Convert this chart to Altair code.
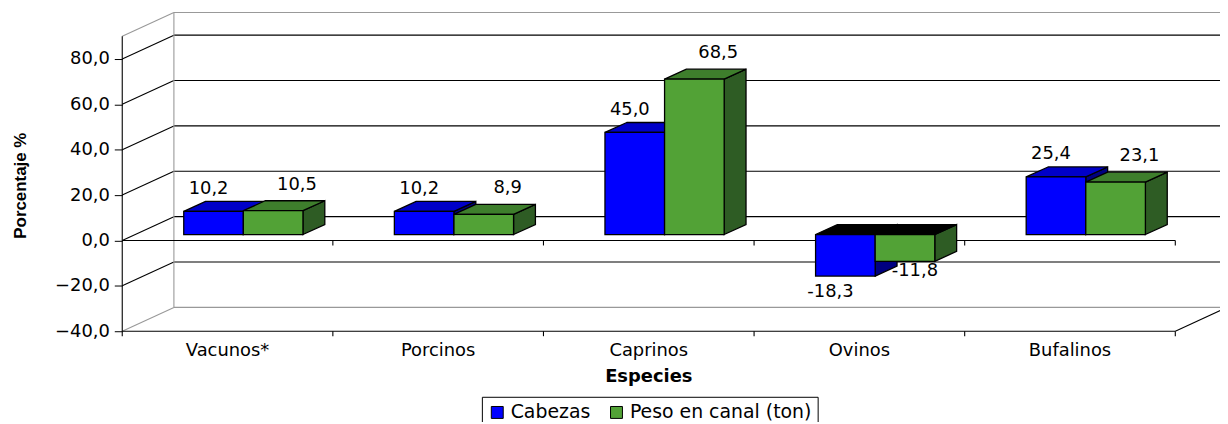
import altair as alt
import pandas as pd

# ---- data ----
categories = ["Vacunos*", "Porcinos", "Caprinos", "Ovinos", "Bufalinos"]
cabezas = [10.2, 10.2, 45.0, -18.3, 25.4]
peso = [10.5, 8.9, 68.5, -11.8, 23.1]
series_names = ["Cabezas", "Peso en canal (ton)"]
y_ticks = [-40, -20, 0, 20, 40, 60, 80]

# ---- pseudo-3D geometry (data units) ----
PXU = 1 / 212.0          # category units per pixel
PXV = 141.0 / 322.0      # value units per pixel
UMAX = 1105 * PXU
S = 6 * PXV              # bar base shift (bars sit inside the box)
DDX, DDY = 22 * PXU, 10 * PXV   # bar depth
BX, BY = 52 * PXU, 24 * PXV     # wall depth
X0 = [0.292, 0.575]
X1 = [0.575, 0.858]
FRONT = ["#0000FF", "#52A236"]
TOP = ["#0000C8", "#3E7E2C"]
SIDE = ["#000080", "#2E5C24"]
GRAY, BLACK = "#999999", "#000000"

values = [cabezas, peso]
front_rows, top_rows, side_rows, label_rows = [], [], [], []
for j, name in enumerate(series_names):
    for i, cat in enumerate(categories):
        val = values[j][i]
        x0, x1 = i + X0[j], i + X1[j]
        top = max(val, 0) + S
        bot = min(val, 0) + S
        bid = f"{j}-{i}"
        front_rows.append(dict(serie=name, u=x0, u2=x1, v=bot, v2=top))
        neg = val < 0
        top_rows += [dict(serie=name, bid=bid, neg=neg, u=x0, u2=x1, v=top),
                     dict(serie=name, bid=bid, neg=neg, u=x0 + DDX, u2=x1 + DDX, v=top + DDY)]
        side_rows += [dict(serie=name, bid=bid, u=x1, v=bot, v2=top),
                      dict(serie=name, bid=bid, u=x1 + DDX, v=bot + DDY, v2=top + DDY)]
        cx = (x0 + x1) / 2
        if j == 0:
            lu = cx + (-5 if not neg else -15) * PXU
            lv = (val + S + 23 * PXV) if not neg else (val + S - 16 * PXV)
        else:
            lu = cx + (24 if not neg else 10) * PXU
            lv = (val + S + 26 * PXV) if not neg else (val + S - 10 * PXV)
        label_rows.append(dict(u=lu, v=lv, txt=f"{val:.1f}".replace(".", ",")))

front_df = pd.DataFrame(front_rows)
top_df = pd.DataFrame(top_rows)
side_df = pd.DataFrame(side_rows)
label_df = pd.DataFrame(label_rows)

segs = []
def seg(u1, v1, u2, v2, col):
    k = len(segs) // 2
    segs.append(dict(sid=k, u=u1, v=v1, col=col))
    segs.append(dict(sid=k, u=u2, v=v2, col=col))

for t in y_ticks + [90]:
    col = GRAY if t in (-40, 90) else BLACK
    seg(0, t, BX, t + BY, col)
    seg(BX, t + BY, UMAX, t + BY, col)
seg(BX, -40 + BY, BX, 90 + BY, GRAY)
seg(0, -40 - 5 * PXV, 0, 90, BLACK)
seg(0, 0, 5, 0, BLACK)
seg(0, -40, 5, -40, BLACK)
seg(5, -40, 5 + BX, -40 + BY, BLACK)
for k in range(1, 6):
    seg(k, 0, k, -5 * PXV, BLACK)
    seg(k, -40, k, -40 - 5 * PXV, BLACK)
seg_df = pd.DataFrame(segs)

cat_df = pd.DataFrame(dict(u=[i + 0.5 for i in range(5)], v=[-40] * 5, cat=categories))
title_df = pd.DataFrame(dict(u=[2.5], v=[-40], t=["Especies"]))

FONT = "DejaVu Sans"
xs = alt.Scale(domain=[0, UMAX], nice=False, zero=False)
ys = alt.Scale(domain=[-40, 101], nice=False, zero=False)
yaxis = alt.Axis(values=y_ticks, labelExpr="replace(format(datum.value, '.1f'), '.', ',')",
                 domain=False, grid=False, tickSize=8, tickColor=BLACK, labelColor=BLACK,
                 labelFont=FONT, labelFontSize=18, labelPadding=5,
                 title="Porcentaje %", titleFont="Liberation Sans", titleFontSize=17,
                 titleFontWeight="bold", titleColor=BLACK, titleAngle=270,
                 titleAlign="center", titleBaseline="middle", titleX=-102, titleY=175)

X = alt.X("u:Q", scale=xs, axis=None)
Y = alt.Y("v:Q", scale=ys, axis=yaxis)

lines = alt.Chart(seg_df).mark_line(strokeWidth=1.1).encode(
    x=X, y=Y, detail="sid:N", stroke=alt.Stroke("col:N", scale=None))

layers = [lines]
for j, name in enumerate(series_names):
    side = alt.Chart(side_df).transform_filter(alt.datum.serie == name).mark_area(
        stroke=BLACK, strokeWidth=1.3, fill=SIDE[j], orient="vertical").encode(
        x=X, y=Y, y2="v2:Q", detail="bid:N")
    topf = alt.Chart(top_df).transform_filter(alt.datum.serie == name).mark_area(
        stroke=BLACK, strokeWidth=1.3, orient="horizontal").encode(
        y=Y, x=X, x2="u2:Q", detail="bid:N",
        fill=alt.condition(alt.datum.neg, alt.value("#000000"), alt.value(TOP[j])))
    front = alt.Chart(front_df).transform_filter(alt.datum.serie == name).mark_rect(
        stroke=BLACK, strokeWidth=1.3).encode(
        x=X, x2="u2:Q", y=Y, y2="v2:Q",
        color=alt.Color("serie:N", scale=alt.Scale(domain=series_names, range=FRONT),
                        legend=alt.Legend(title=None, orient="none", direction="horizontal",
                                          legendX=362, legendY=388, symbolType="square",
                                          symbolSize=144, symbolStrokeColor=BLACK,
                                          symbolStrokeWidth=1, labelFont=FONT,
                                          labelFontSize=19, labelColor=BLACK,
                                          columnPadding=16, padding=6, strokeColor=BLACK,
                                          fillColor="white", labelLimit=400)))
    layers += [side, topf, front]

vlabels = alt.Chart(label_df).mark_text(font=FONT, fontSize=18, color=BLACK,
                                        baseline="middle", align="center").encode(
    x=X, y=Y, text="txt:N")
clabels = alt.Chart(cat_df).mark_text(font=FONT, fontSize=18, color=BLACK,
                                      baseline="middle", align="center", dy=20).encode(
    x=X, y=Y, text="cat:N")
xtitle = alt.Chart(title_df).mark_text(font=FONT, fontSize=18, fontWeight="bold", color=BLACK,
                                       baseline="middle", align="center", dy=46).encode(
    x=X, y=Y, text="t:N")
layers += [vlabels, clabels, xtitle]

chart = alt.layer(*layers).properties(
    width=1105, height=322,
    autosize=alt.AutoSizeParams(type="none"),
    padding={"left": 115, "top": 2, "right": 0, "bottom": 90},
    background="white",
).configure_view(stroke=None)

chart.save("out.html", embed_options={"renderer": "svg", "actions": False})
